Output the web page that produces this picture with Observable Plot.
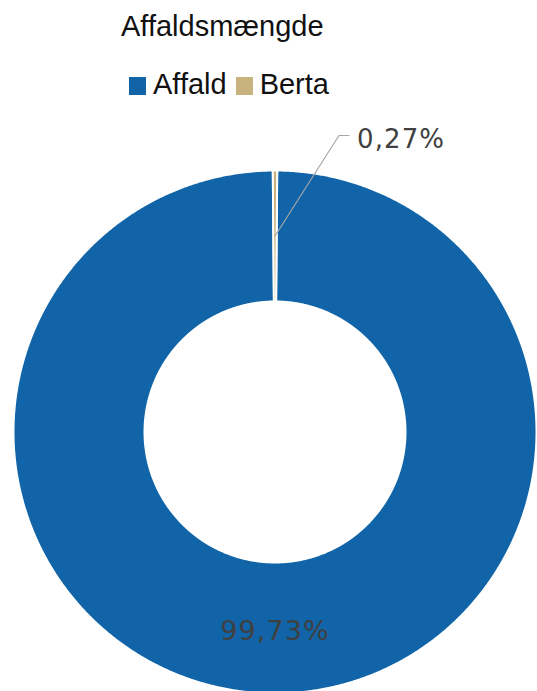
<!DOCTYPE html>
<html><head><meta charset="utf-8">
<script src="https://cdn.jsdelivr.net/npm/d3@7"></script>
<script src="https://cdn.jsdelivr.net/npm/@observablehq/plot@0.6"></script>
<style>
html,body{margin:0;padding:0;background:#fff;}
#page{position:relative;width:537px;height:691px;overflow:hidden;background:#fff;}
#title{position:absolute;left:121px;top:11.5px;font-family:"Liberation Sans",Arial,sans-serif;font-size:29px;line-height:1;color:#111;white-space:nowrap;}
#legend{position:absolute;left:129px;top:69.5px;display:flex;align-items:flex-start;font-family:"Liberation Sans",Arial,sans-serif;font-size:29px;line-height:1;color:#111;white-space:nowrap;}
#legend .sw{display:inline-block;width:17px;height:18px;margin-top:7.5px;margin-right:7px;}
#legend .item{display:flex;align-items:flex-start;margin-right:9px;}
#chart{position:absolute;left:0;top:110px;}
#chart text{letter-spacing:1.1px;}
</style>
</head><body>
<div id="page">
  <div id="title">Affaldsmængde</div>
  <div id="legend"></div>
  <div id="chart"></div>
</div>
<script>
// ---- data ----
const categories = ["Affald", "Berta"];
const shares = [99.73, 0.27];
const labels = ["99,73%", "0,27%"];
const colors = ["#1064a7", "#c8b27d"];
const titleText = "Affaldsmængde";

// ---- legend ----
const leg = document.getElementById("legend");
categories.forEach((c, i) => {
  const it = document.createElement("span");
  it.className = "item";
  const sw = document.createElement("span");
  sw.className = "sw";
  sw.style.background = colors[i];
  const tx = document.createElement("span");
  tx.textContent = c;
  it.appendChild(sw); it.appendChild(tx);
  leg.appendChild(it);
});
document.getElementById("title").textContent = titleText;

// ---- geometry ----
const RPX = 261.5;          // outer radius in px
const innerRatio = 130.5 / RPX;
const data = categories.map((c, i) => ({key: c, value: shares[i], label: labels[i]}));
const total = d3.sum(shares);
const bFrac = shares[1] / total;
const pie = d3.pie().sort(null).value(d => d.value)
  .startAngle(Math.PI * bFrac).endAngle(2 * Math.PI + Math.PI * bFrac);
const arcs = pie(data);

const pts = [];
arcs.forEach(a => {
  const n = Math.max(4, Math.ceil((a.endAngle - a.startAngle) / 0.005));
  for (let k = 0; k <= n; k++) {
    const t = a.startAngle + (a.endAngle - a.startAngle) * k / n;
    pts.push({key: a.data.key, x: Math.sin(t), y: Math.cos(t)});
  }
  for (let k = n; k >= 0; k--) {
    const t = a.startAngle + (a.endAngle - a.startAngle) * k / n;
    pts.push({key: a.data.key, x: innerRatio * Math.sin(t), y: innerRatio * Math.cos(t)});
  }
});

const rm = (1 + innerRatio) / 2;
const cents = arcs.map(a => {
  const m = (a.startAngle + a.endAngle) / 2;
  return {key: a.data.key, label: a.data.label, x: rm * Math.sin(m), y: rm * Math.cos(m)};
});
const aff = cents[0], ber = cents[1];

// leader line for small slice (pixel offsets converted to data units)
const leader = [
  {x: ber.x, y: ber.y},
  {x: ber.x + 64 / RPX, y: ber.y + 100.5 / RPX},
  {x: ber.x + 74 / RPX, y: ber.y + 100.5 / RPX}
];

const chart = Plot.plot({
  width: 537,
  height: 583,
  marginLeft: 13,
  marginRight: 1,
  marginTop: 60,
  marginBottom: 0,
  x: {domain: [-1, 1], axis: null},
  y: {domain: [-1, 1], axis: null},
  color: {domain: categories, range: colors},
  style: {background: "transparent", overflow: "visible"},
  marks: [
    Plot.line(pts, {x: "x", y: "y", z: "key", fill: "key", stroke: "white", strokeWidth: 2, curve: "linear-closed", clip: false}),
    Plot.line(leader, {x: "x", y: "y", stroke: "#a6a6a6", strokeWidth: 1.2}),
    Plot.text([aff], {x: "x", y: "y", text: "label", dy: 3, textAnchor: "middle", fontFamily: "DejaVu Sans, Verdana, sans-serif", fontSize: 27, fill: "#404040"}),
    Plot.text([ber], {x: "x", y: "y", text: "label", dx: 82, dy: -96.5, textAnchor: "start", fontFamily: "DejaVu Sans, Verdana, sans-serif", fontSize: 26, fill: "#404040"})
  ]
});
document.getElementById("chart").appendChild(chart);
</script>
</body></html>
